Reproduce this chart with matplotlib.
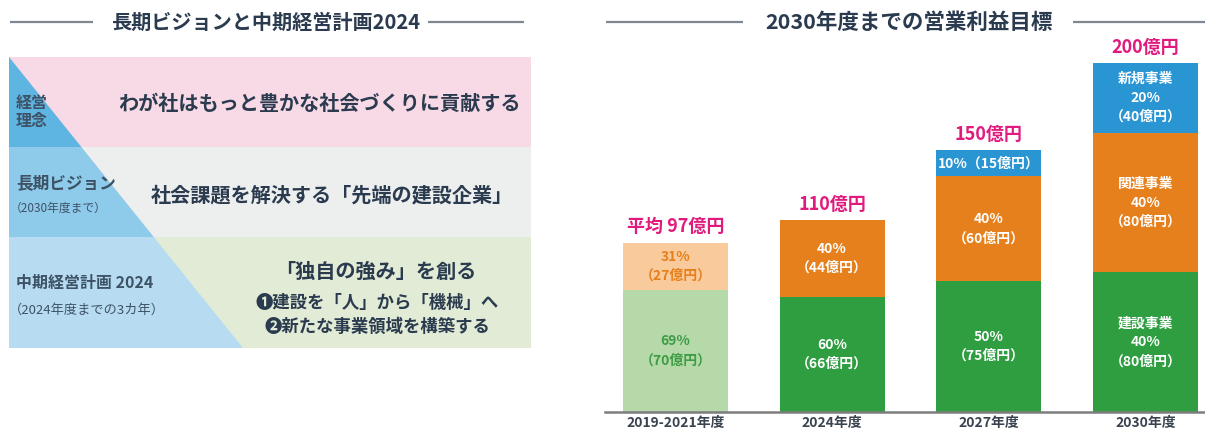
import matplotlib
matplotlib.use("Agg")
import matplotlib.pyplot as plt
from matplotlib.patches import Rectangle, Polygon

plt.rcParams['font.family'] = ['Noto Sans CJK JP', 'DejaVu Sans']

# data for the bar chart (億円)
years = ["2019-2021年度", "2024年度", "2027年度", "2030年度"]
construction = [70, 66, 75, 80]
related = [27, 44, 60, 80]
new_biz = [0, 0, 15, 40]
totals = ["平均 97億円", "110億円", "150億円", "200億円"]
construction_lbl = ["69%\n（70億円）", "60%\n（66億円）", "50%\n（75億円）", "建設事業\n40%\n（80億円）"]
related_lbl = ["31%\n（27億円）", "40%\n（44億円）", "40%\n（60億円）", "関連事業\n40%\n（80億円）"]
new_lbl = ["", "", "10%（15億円）", "新規事業\n20%\n（40億円）"]

# left panel texts
band_heads = ["経営\n理念", "長期ビジョン", "中期経営計画 2024"]
band_subs = ["", "（2030年度まで）", "（2024年度までの3カ年）"]
band_main = ["わが社はもっと豊かな社会づくりに貢献する",
             "社会課題を解決する「先端の建設企業」",
             "「独自の強み」を創る"]
band_points = ["❶建設を「人」から「機械」へ", "❷新たな事業領域を構築する"]

navy = "#2b3b4f"
magenta = "#e01b7d"
green = "#2e9e41"
orange = "#e6801c"
blue = "#2a95d3"

fig = plt.figure(figsize=(12.05, 4.37), dpi=100)

# overlay in pixel coordinates for the diagram and titles
bg = fig.add_axes([0, 0, 1, 1])
bg.set_xlim(0, 1205)
bg.set_ylim(437, 0)
bg.axis("off")
bg.patch.set_alpha(0)

# titles with side lines
line_c = "#7f8891"
for x0, x1 in [(10, 93), (428, 524), (606, 743), (1073, 1205)]:
    bg.plot([x0, x1], [22, 22], color=line_c, lw=1.6, solid_capstyle="butt")
bg.text(266, 22, "長期ビジョンと中期経営計画2024", ha="center", va="center",
        fontsize=14.5, fontweight="bold", color=navy)
bg.text(909, 22, "2030年度までの営業利益目標", ha="center", va="center",
        fontsize=15.5, fontweight="bold", color=navy)

# bands
L, R = 9, 531
ys = [57, 147, 237, 348]
band_cols = ["#f8d9e6", "#edeeee", "#e2ebd5"]
blue_cols = ["#5fb5e2", "#8ecaea", "#b7dcf2"]


def hyp(y):
    return 9 + (y - 57) * 234 / 291


for i in range(3):
    y0, y1 = ys[i], ys[i + 1]
    bg.add_patch(Rectangle((L, y0), R - L, y1 - y0, color=band_cols[i], lw=0))
    bg.add_patch(Polygon([(L, y0), (hyp(y0), y0), (hyp(y1), y1), (L, y1)],
                         closed=True, color=blue_cols[i], lw=0))

head_c = "#3e5266"
bg.text(16, 112, band_heads[0], ha="left", va="center", fontsize=11.5,
        fontweight="bold", color=head_c, linespacing=1.15)
bg.text(16, 183, band_heads[1], ha="left", va="center", fontsize=12,
        fontweight="bold", color=head_c)
bg.text(10, 208, band_subs[1], ha="left", va="center", fontsize=8.5,
        color=head_c)
bg.text(16, 283, band_heads[2], ha="left", va="center", fontsize=11.5,
        fontweight="bold", color=head_c)
bg.text(9, 310, band_subs[2], ha="left", va="center", fontsize=9.5,
        color=head_c)

bg.text(319, 103, band_main[0], ha="center", va="center", fontsize=14.5,
        fontweight="bold", color=navy)
bg.text(332, 195, band_main[1], ha="center", va="center", fontsize=14.5,
        fontweight="bold", color=navy)
bg.text(376, 271, band_main[2], ha="center", va="center", fontsize=14.5,
        fontweight="bold", color=navy)
bg.text(377, 303, band_points[0], ha="center", va="center", fontsize=12.5,
        fontweight="bold", color=navy)
bg.text(377, 327, band_points[1], ha="center", va="center", fontsize=12.5,
        fontweight="bold", color=navy)

# stacked bar chart
ax = fig.add_axes([605 / 1205, 25 / 437, 600 / 1205, 372 / 437])
ax.patch.set_alpha(0)
x = range(len(years))
w = 0.67
c_cols = ["#b5d9a9", green, green, green]
r_cols = ["#f9ca9c", orange, orange, orange]
c_txt = ["#3d9c45", "white", "white", "white"]
r_txt = [orange, "white", "white", "white"]

ax.bar(x, construction, width=w, color=c_cols, zorder=1)
ax.bar(x, related, width=w, bottom=construction, color=r_cols, zorder=1)
bottom_new = [a + b for a, b in zip(construction, related)]
ax.bar(x, new_biz, width=w, bottom=bottom_new, color=blue, zorder=1)

seg_kw = dict(ha="center", va="center", fontsize=10, fontweight="bold",
              linespacing=1.45)
for i in x:
    ax.text(i, construction[i] / 2, construction_lbl[i], color=c_txt[i], **seg_kw)
    ax.text(i, construction[i] + related[i] / 2, related_lbl[i], color=r_txt[i],
            **seg_kw)
    if new_biz[i]:
        ax.text(i, bottom_new[i] + new_biz[i] / 2, new_lbl[i], color="white",
                **seg_kw)
    top = bottom_new[i] + new_biz[i]
    ax.annotate(totals[i], (i, top), xytext=(0, 11.5), textcoords="offset points",
                ha="center", va="center", fontsize=13, fontweight="bold",
                color=magenta)

ax.set_xlim(-0.45, 3.38)
ax.set_ylim(0, 213.2)
ax.set_xticks(list(x))
ax.set_xticklabels(years, fontsize=10, fontweight="bold", color="#3a4350")
ax.tick_params(axis="x", length=0, pad=3)
ax.set_yticks([])
for s in ["top", "left", "right"]:
    ax.spines[s].set_visible(False)
ax.spines["bottom"].set_color("#7d7d7d")
ax.spines["bottom"].set_linewidth(1.8)
ax.spines["bottom"].set_zorder(3)

fig.savefig("out.png", dpi=100)
